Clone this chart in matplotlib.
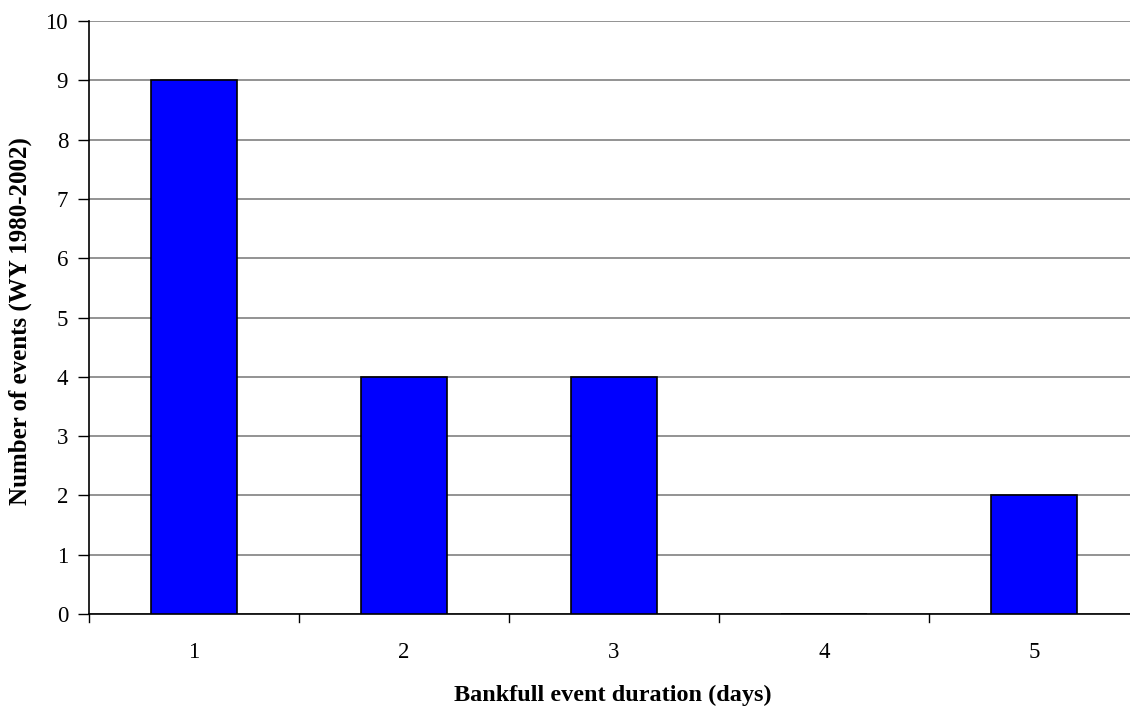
import matplotlib
matplotlib.use("Agg")
import matplotlib.pyplot as plt

durations = ["1", "2", "3", "4", "5"]
event_counts = [9, 4, 4, 0, 2]
y_ticks = list(range(0, 11))

plt.rcParams["font.family"] = ["Liberation Serif", "DejaVu Serif"]

W, H = 1130, 708
fig = plt.figure(figsize=(W / 100, H / 100), dpi=100)
ax = fig.add_axes([89 / W, (H - 614) / H, 1050 / W, (614 - 21) / H])

x = list(range(len(durations)))
ax.bar(x, event_counts, width=0.405, color="#0000FF", edgecolor="black",
       linewidth=1.2, zorder=3)

ax.set_xlim(-0.5, len(durations) - 0.5)
ax.set_ylim(0, 10)
ax.set_yticks(y_ticks)
ax.set_yticklabels([str(v) for v in y_ticks], fontsize=16.5)
ax.set_xticks(x)
ax.set_xticklabels(durations, fontsize=16.5)
ax.tick_params(axis="x", length=0, pad=20)
ax.tick_params(axis="y", direction="out", length=8, width=1, pad=7)

# category separators on the x axis
for b in [i + 0.5 for i in range(-1, len(durations))]:
    ax.plot([b, b], [0, -0.14], color="black", lw=1, clip_on=False, zorder=4)

ax.yaxis.grid(True, color="#808080", linewidth=1.2, zorder=0)
for side in ["top", "right"]:
    ax.spines[side].set_visible(False)
ax.spines["left"].set_linewidth(1.2)
ax.spines["bottom"].set_linewidth(1.2)

fig.text(613 / W, 1 - 695 / H, "Bankfull event duration (days)", ha="center",
         va="center", fontsize=17.5, fontweight="bold")
fig.text(20 / W, 1 - 321 / H, "Number of events (WY 1980-2002)", ha="center",
         va="center", rotation=90, fontsize=18, fontweight="bold")

fig.savefig("out.png", dpi=100)
